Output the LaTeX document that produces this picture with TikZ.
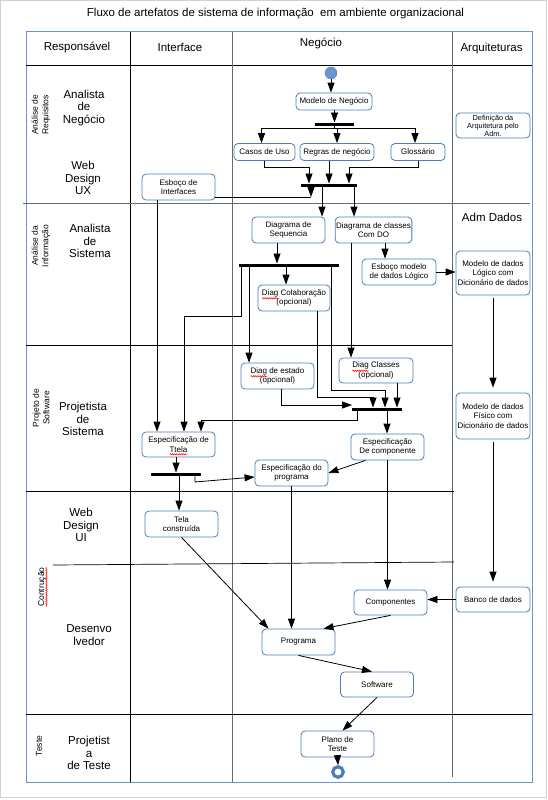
\documentclass[tikz,border=0pt]{standalone}
\usepackage{fontspec}
\setmainfont{Liberation Sans}
\usetikzlibrary{arrows.meta,positioning,calc,decorations.pathmorphing}

\definecolor{boxblue}{RGB}{79,125,185}
\definecolor{frameblue}{RGB}{112,146,200}
\definecolor{startblue}{RGB}{108,148,206}
\definecolor{linegray}{RGB}{105,105,105}

\begin{document}
\begin{tikzpicture}[x=1pt,y=-1pt,
		box/.style={draw=boxblue, line width=0.8pt, rounded corners=4pt, fill=white, align=center,
			inner sep=1pt, minimum width=73pt, minimum height=25pt, font=\fontsize{8}{9.5}\selectfont},
		smallbox/.style={box, minimum height=17pt},
		tallbox/.style={box, minimum width=74pt, minimum height=44pt},
		barnode/.style={fill=black, inner sep=0pt, outer sep=0pt, minimum height=3pt},
		flow/.style={line width=0.8pt, -{Triangle[length=10pt,width=7pt]}},
		link/.style={line width=0.8pt},
		grid/.style={line width=0.9pt},
		spell/.style={draw=red, line width=0.5pt, decorate, decoration={snake, amplitude=0.7pt, segment length=2.2pt}},
		head/.style={font=\fontsize{11.5}{13}\selectfont},
		role/.style={align=center, font=\fontsize{11.5}{12.5}\selectfont},
		phase/.style={rotate=90, align=center, font=\fontsize{8.5}{10.5}\selectfont}]
		\useasboundingbox (0,0) rectangle (548,800);
		\draw[black!18] (0.5,0.5) rectangle (546.5,797.5);
		
		% lanes
		\draw[frameblue, line width=1pt] (26,32) rectangle (532,782);
		\draw[grid] (26,65) -- (532,65);
		\draw[grid] (130,32) -- (130,782);
		\draw[grid, linegray] (232,32) -- (232,782);
		\draw[grid, linegray] (452,32) -- (452,777);
		\draw[grid, linegray] (23,203) -- (530,203);
		\draw[grid] (26,345) -- (452,345);
		\draw[grid] (26,491) -- (454,491);
		\draw[line width=0.7pt] (53,565) -- (454,562);
		\draw[grid] (26,714) -- (532,714);
		
		\node[head] (title) at (275.5,14) {Fluxo de artefatos de sistema de informação\ \ em ambiente organizacional};
		\node[head] (hresp) at (77,47) {Responsável};
		\node[head] (hint) at (180,47) {Interface};
		\node[head] (hneg) at (321,43) {Negócio};
		\node[head] (harq) at (491.5,49) {Arquiteturas};
		\node[head] (hadm) at (492,217) {Adm Dados};
		
		\node[phase] (ph1) at (41,115) {Análise de\\Requisitos};
		\node[phase] (ph2) at (41,246) {Análise da\\Informação};
		\node[phase] (ph3) at (41,408) {Projeto de\\Software};
		\node[phase] (ph4) at (42,587) {Contrução};
		\node[phase] (ph5) at (39,746) {Teste};
		
		\node[role] (rneg) at (84,108) {Analista\\de\\Negócio};
		\node[role] (rux) at (83,178) {Web\\Design\\UX};
		\node[role] (rsis) at (90,241) {Analista\\de\\Sistema};
		\node[role] (rproj) at (83,419) {Projetista\\de\\Sistema};
		\node[role] (rui) at (81,525) {Web\\Design\\UI};
		\node[role] (rdev) at (89,635) {Desenvo\\lvedor};
		\node[role] (rtest) at (89,753) {Projetist\\a\\de Teste};
		
		% artefatos
		\node[circle, fill=startblue, draw=boxblue, minimum size=12pt, inner sep=0pt] (start) at (331,73) {};
		\node[smallbox, minimum width=76pt] (modelo) at (334,101.5) {Modelo de Negócio};
		\node[barnode, minimum width=39pt] (fork1) at (334.5,124) {};
		\node[smallbox, minimum width=61pt] (casos) at (264.5,152) {Casos de Uso};
		\node[smallbox, minimum width=74pt] (regras) at (337,152) {Regras de negócio};
		\node[smallbox, minimum width=54pt] (gloss) at (418,152) {Glossário};
		\node[barnode, minimum width=56pt] (join1) at (329,185) {};
		\node[box, minimum height=26pt] (esbint) at (178.5,187) {Esboço de\\Interfaces};
		\node[box, minimum height=26pt] (diagseq) at (288.5,230) {Diagrama de\\Sequencia};
		\node[box, minimum height=26pt] (diagcls) at (373.5,230) {Diagrama de classes\\Com DO};
		\node[box, minimum width=74pt, minimum height=26pt] (esbmod) at (399,272) {Esboço modelo\\de dados Lógico};
		\node[barnode, minimum width=100pt] (fork2) at (289,265) {};
		\node[box, minimum width=72pt, minimum height=26pt] (dcolab) at (294,298) {Diag Colaboração\\(opcional)};
		\node[box, minimum height=26pt] (dest) at (277.5,376) {Diag de estado\\(opcional)};
		\node[box, minimum width=74pt] (dclasses) at (376,370.5) {Diag Classes\\(opcional)};
		\node[barnode, minimum width=50pt] (join2) at (377,409) {};
		\node[box] (esptela) at (178.5,444.5) {Especificação de\\Ttela};
		\node[box, minimum height=26pt] (espcomp) at (387.5,447) {Especificação\\De componente};
		\node[barnode, minimum width=50pt] (fork3) at (176,474) {};
		\node[box, minimum height=26pt] (espprog) at (291.5,473) {Especificação do\\programa};
		\node[box, minimum height=26pt] (telac) at (181.5,524) {Tela\\construída};
		\node[box] (comp) at (390.5,602.5) {Componentes};
		\node[box, minimum height=26pt] (programa) at (298.5,642) {Programa};
		\node[box] (software) at (377,684.5) {Software};
		\node[box, minimum height=26pt] (plano) at (337.5,744) {Plano de\\Teste};
		\node[circle, draw=boxblue, line width=3.2pt, fill=white, minimum size=10.5pt, inner sep=0pt] (finish) at (338,772) {};
		
		\node[box, minimum width=74pt, font=\fontsize{7.3}{8}\selectfont] (defarq) at (493,125.5) {Definição da\\Arquitetura pelo\\Adm.};
		\node[tallbox] (logico) at (493,273) {Modelo de dados\\Lógico com\\Dicionário de dados};
		\node[tallbox, minimum height=46pt] (fisico) at (493,416) {Modelo de dados\\Físico com\\Dicionário de dados};
		\node[box, minimum width=74pt] (banco) at (493,599.5) {Banco de dados};
		
		% marcas do corretor
		\draw[spell] ([xshift=-32pt,yshift=-0.3pt]dcolab.center) -- ++(16.4,0);
		\draw[spell] ([xshift=-26.9pt,yshift=-0.3pt]dest.center) -- ++(16.4,0);
		\draw[spell] ([xshift=-23.6pt,yshift=-0.3pt]dclasses.center) -- ++(16.4,0);
		\draw[spell] ([xshift=-8.9pt,yshift=-9.8pt]esptela.center) -- ++(17.8,0);
		\draw[spell] ([xshift=4.5pt,yshift=-19.6pt]ph4.center) -- ++(0,-39.2);
		
		% requisitos
		\draw[flow] (start.south) -- (start.south |- modelo.north);
		\draw[flow] (modelo.south -| fork1.north) -- (fork1.north);
		\coordinate (br1) at (334.5,128);
		\draw[link] (fork1.south) -- (br1);
		\draw[flow] (br1) -| ([xshift=-3pt]casos.north);
		\draw[flow] (br1) -| (regras.north);
		\draw[flow] (br1) -| ([xshift=-3pt]gloss.north);
		\draw[flow] (casos.south) -- ++(0,6) -| ([xshift=-20pt]join1.north);
		\draw[flow] (join1.north |- regras.south) -- (join1.north);
		\draw[flow] (gloss.south) -- ++(0,6) -| ([xshift=20pt]join1.north);
		\coordinate (ei) at (311,197);
		\draw[link] (esbint.east |- ei) -- (ei);
		\draw[flow] ([xshift=-18pt]join1.south) -- (ei);
		\draw[flow] ([xshift=-7pt]join1.south) -- ([xshift=-7pt]join1.south |- diagseq.north);
		\draw[flow] ([xshift=25pt]join1.south) -- ([xshift=25pt]join1.south |- diagcls.north);
		
		% informacao
		\draw[flow] ([xshift=-11.5pt]diagseq.south) -- ([xshift=-11.5pt]diagseq.south |- fork2.north);
		\draw[flow] ([xshift=11.5pt]diagcls.south) -- ([xshift=11.5pt]diagcls.south |- esbmod.north);
		\draw[flow] (esbmod.east) -- (esbmod.east -| logico.west);
		\draw[flow] ([xshift=-22.5pt]diagcls.south) -- ([xshift=-22.5pt]diagcls.south |- dclasses.north);
		\draw[flow] ([xshift=-48pt]fork2.south) -- ++(0,49.5) -| ([xshift=5.5pt]esptela.north);
		\draw[flow] ([xshift=-40pt]fork2.south) -- ([xshift=-40pt]fork2.south |- dest.north);
		\draw[flow] ([xshift=-3pt]fork2.south) -- ([xshift=-3pt]fork2.south |- dcolab.north);
		\draw[flow] ([xshift=42pt]fork2.south) -- ++(0,123.5) -| ([xshift=8pt]join2.north);
		\draw[flow] ([xshift=23pt]dcolab.south) -- ++(0,86) -| ([xshift=-4pt]join2.north);
		\draw[flow] ([xshift=21pt]dclasses.south) -- ([xshift=21pt]dclasses.south |- join2.north);
		\draw[flow] ([xshift=3.5pt]dest.south) |- ([yshift=4pt]join2.west);
		\draw[flow] ([xshift=10pt]join2.south) -- ([xshift=10pt]join2.south |- espcomp.north);
		\draw[flow] ([xshift=-20pt]join2.south) -- ++(0,9.5) -| ([xshift=22.5pt]esptela.north);
		\draw[flow] ([xshift=-21.5pt]esbint.south) -- ([xshift=-21.5pt]esbint.south |- esptela.north);
		
		% projeto
		\draw[flow] ([xshift=-2.5pt]esptela.south) -- ([xshift=-2.5pt]esptela.south |- fork3.north);
		\draw[flow] ([xshift=19pt]fork3.south) -- ++(0,6.5) -- ([yshift=-4pt]espprog.west);
		\draw[flow] ([xshift=3pt]fork3.south) -- ([xshift=3pt]fork3.south |- telac.north);
		\draw[flow] ([xshift=-22pt]espcomp.south) -- (espprog.east);
		
		% construcao e teste
		\draw[flow] (espprog.south) -- (espprog.south |- programa.north);
		\draw[flow] (espcomp.south) -- (espcomp.south |- comp.north);
		\draw[flow] (telac.south) -- ([xshift=-30pt]programa.north);
		\draw[flow] (comp.south) -- ([xshift=25pt]programa.north);
		\draw[flow] (banco.west) -- (banco.west -| comp.east);
		\draw[flow, shorten <=3pt, shorten >=5pt] (logico.south) -- (fisico.north);
		\draw[flow, shorten <=3pt, shorten >=5pt] (fisico.south) -- (banco.north);
		\draw[flow] (programa.south) -- ([xshift=-5pt]software.north);
		\draw[flow] (software.south) -- ([xshift=5pt]plano.north);
		\draw[flow] (plano.south) -- (finish.north);
\end{tikzpicture}
\end{document}
